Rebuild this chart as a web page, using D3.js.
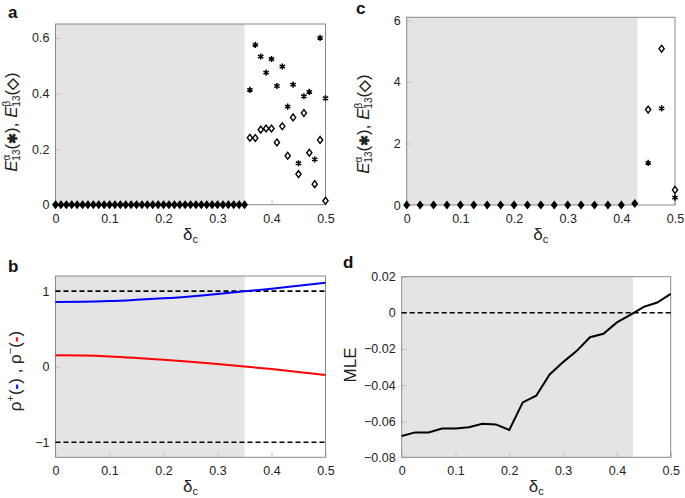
<!DOCTYPE html>
<html>
<head>
<meta charset="utf-8">
<script src="https://cdn.jsdelivr.net/npm/d3@7"></script>
<style>
  body { margin: 0; background: #fff; }
  svg { font-family: "Liberation Sans", Arial, sans-serif; }
</style>
</head>
<body>
<svg id="fig" width="685" height="498"></svg>
<script>
// ---- panel a : E13 errors, fine grid ----
const deltaA = [0, 0.01, 0.02, 0.03, 0.04, 0.05, 0.06, 0.07, 0.08, 0.09, 0.10, 0.11, 0.12, 0.13, 0.14, 0.15, 0.16,
  0.17, 0.18, 0.19, 0.20, 0.21, 0.22, 0.23, 0.24, 0.25, 0.26, 0.27, 0.28, 0.29, 0.30, 0.31, 0.32, 0.33, 0.34, 0.35,
  0.36, 0.37, 0.38, 0.39, 0.40, 0.41, 0.42, 0.43, 0.44, 0.45, 0.46, 0.47, 0.48, 0.49, 0.50];
const alphaA = [0, 0, 0, 0, 0, 0, 0, 0, 0, 0, 0, 0, 0, 0, 0, 0, 0, 0, 0, 0, 0, 0, 0, 0, 0, 0, 0, 0, 0, 0, 0, 0, 0, 0, 0, 0,
  0.413, 0.575, 0.533, 0.475, 0.524, 0.427, 0.497, 0.353, 0.432, 0.149, 0.390, 0.406, 0.163, 0.600, 0.383];
const betaA = [0, 0, 0, 0, 0, 0, 0, 0, 0, 0, 0, 0, 0, 0, 0, 0, 0, 0, 0, 0, 0, 0, 0, 0, 0, 0, 0, 0, 0, 0, 0, 0, 0, 0, 0, 0,
  0.241, 0.240, 0.270, 0.274, 0.274, 0.224, 0.282, 0.176, 0.314, 0.110, 0.330, 0.187, 0.074, 0.233, 0.014];
const shadeA = 0.35;

// ---- panel b : rho+ / rho- ----
const deltaB = [0, 0.05, 0.10, 0.15, 0.20, 0.25, 0.30, 0.35, 0.40, 0.45, 0.50];
const rhoPlus = [0.855, 0.858, 0.868, 0.885, 0.905, 0.930, 0.962, 0.998, 1.032, 1.070, 1.110];
const rhoMinus = [0.150, 0.147, 0.136, 0.116, 0.092, 0.064, 0.034, 0.002, -0.032, -0.070, -0.110];
const shadeB = 0.35;

// ---- panel c : E13 errors, coarse grid ----
const deltaC = [0, 0.025, 0.05, 0.075, 0.10, 0.125, 0.15, 0.175, 0.20, 0.225, 0.25, 0.275, 0.30, 0.325, 0.35,
  0.375, 0.40, 0.425, 0.45, 0.475, 0.50];
const alphaC = [0, 0, 0, 0, 0, 0, 0, 0, 0, 0, 0, 0, 0, 0, 0, 0, 0, 0.05, 1.37, 3.14, 0.24];
const betaC = [0, 0, 0, 0, 0, 0, 0, 0, 0, 0, 0, 0, 0, 0, 0, 0, 0, 0.05, 3.10, 5.08, 0.49];
const shadeC = 0.43;

// ---- panel d : MLE ----
const deltaD = deltaC;
const mle = [-0.0682, -0.0662, -0.0662, -0.0641, -0.0640, -0.0634, -0.0614, -0.0618, -0.0649, -0.0496, -0.0459,
  -0.0341, -0.0273, -0.0212, -0.0135, -0.0116, -0.0053, -0.0011, 0.0033, 0.0057, 0.0105];
const shadeD = 0.43;

const xTicks = [0, 0.1, 0.2, 0.3, 0.4, 0.5];

const svg = d3.select("#fig");
const minus = s => s.replace("-", "\u2212");

function panel(box, yDomain, yTicks, yFmt, shadeEnd) {
  const g = svg.append("g");
  const x = d3.scaleLinear().domain([0, 0.5]).range([box.left, box.right]);
  const y = d3.scaleLinear().domain(yDomain).range([box.bottom, box.top]);

  g.append("rect")
    .attr("x", x(0)).attr("y", box.top)
    .attr("width", x(shadeEnd) - x(0)).attr("height", box.bottom - box.top)
    .attr("fill", "#e4e4e4");

  const xa = g.append("g").attr("transform", "translate(0," + box.bottom + ")")
    .call(d3.axisBottom(x).tickValues(xTicks).tickSizeInner(-5).tickSizeOuter(0).tickPadding(9)
      .tickFormat(d => d === 0 ? "0" : d3.format(".1f")(d)));
  const ya = g.append("g").attr("transform", "translate(" + box.left + ",0)")
    .call(d3.axisLeft(y).tickValues(yTicks).tickSizeInner(-5).tickSizeOuter(0).tickPadding(6)
      .tickFormat(d => d === 0 ? "0" : minus(yFmt(d))));
  [xa, ya].forEach(a => {
    a.select(".domain").remove();
    a.selectAll("line").attr("stroke", "#c4c4c4");
    a.selectAll("text").attr("font-size", 12.5).attr("fill", "#222")
      .attr("font-family", "'Liberation Sans', Arial, sans-serif");
  });

  g.append("rect")
    .attr("x", box.left).attr("y", box.top)
    .attr("width", box.right - box.left).attr("height", box.bottom - box.top)
    .attr("fill", "none").attr("stroke", "#8a8a8a").attr("stroke-width", 1);

  // x label δc
  const xl = g.append("text")
    .attr("x", (box.left + box.right) / 2).attr("y", box.bottom + 35)
    .attr("text-anchor", "middle").attr("font-size", 17).attr("fill", "#222");
  xl.append("tspan").text("δ");
  xl.append("tspan").attr("font-size", 11).attr("dy", 3).text("c");

  return { g, x, y };
}

const boxA = { left: 55.5, right: 325.5, top: 24, bottom: 204.7 };
const boxB = { left: 55.5, right: 325.5, top: 276, bottom: 457.3 };
const boxC = { left: 406.7, right: 675, top: 17.3, bottom: 205 };
const boxD = { left: 401.7, right: 670.7, top: 276.7, bottom: 457.3 };

const diamond = "M0,-3.4L2.6,0L0,3.4L-2.6,0Z";
const star = d3.symbol(d3.symbolAsterisk, 26)();

function scatter(p, xs, alpha, beta) {
  const pts = xs.map((d, i) => ({ d, a: alpha[i], b: beta[i] }));
  p.g.append("g").selectAll("path").data(pts).join("path")
    .attr("transform", v => "translate(" + p.x(v.d) + "," + p.y(v.b) + ")")
    .attr("d", diamond)
    .attr("fill", v => v.a === v.b ? "#000" : "#fff")
    .attr("stroke", "#000").attr("stroke-width", 1.4);
  p.g.append("g").selectAll("path").data(pts.filter(v => v.a !== v.b)).join("path")
    .attr("transform", v => "translate(" + p.x(v.d) + "," + p.y(v.a) + ")")
    .attr("d", star)
    .attr("fill", "none").attr("stroke", "#000").attr("stroke-width", 1.5);
}

// panel a
const pA = panel(boxA, [0, 0.65], [0, 0.2, 0.4, 0.6], d3.format(".1f"), shadeA);
scatter(pA, deltaA, alphaA, betaA);

// panel c
const pC = panel(boxC, [0, 6.1], [0, 2, 4, 6], d3.format("d"), shadeC);
scatter(pC, deltaC, alphaC, betaC);

// panel b
const pB = panel(boxB, [-1.2, 1.2], [-1, 0, 1], d3.format("d"), shadeB);
[1, -1].forEach(v => {
  pB.g.append("line")
    .attr("x1", pB.x(0)).attr("x2", pB.x(0.5)).attr("y1", pB.y(v)).attr("y2", pB.y(v))
    .attr("stroke", "#000").attr("stroke-width", 1.6).attr("stroke-dasharray", "5,3");
});
const lineB = ys => d3.line().x((d, i) => pB.x(deltaB[i])).y(d => pB.y(d)).curve(d3.curveMonotoneX)(ys);
pB.g.append("path").attr("d", lineB(rhoPlus)).attr("fill", "none").attr("stroke", "#0000ff").attr("stroke-width", 2);
pB.g.append("path").attr("d", lineB(rhoMinus)).attr("fill", "none").attr("stroke", "#ff0000").attr("stroke-width", 2);

// panel d
const pD = panel(boxD, [-0.08, 0.02], [-0.08, -0.06, -0.04, -0.02, 0, 0.02], d3.format(".2f"), shadeD);
pD.g.append("line")
  .attr("x1", pD.x(0)).attr("x2", pD.x(0.5)).attr("y1", pD.y(0)).attr("y2", pD.y(0))
  .attr("stroke", "#000").attr("stroke-width", 1.6).attr("stroke-dasharray", "5,3");
pD.g.append("path")
  .attr("d", d3.line().x((d, i) => pD.x(deltaD[i])).y(d => pD.y(d))(mle))
  .attr("fill", "none").attr("stroke", "#000").attr("stroke-width", 2);

// y labels
function eLabel(cx, cy) {
  const t = svg.append("text")
    .attr("transform", "translate(" + cx + "," + cy + ") rotate(-90)")
    .attr("text-anchor", "middle").attr("font-size", 17).attr("fill", "#222");
  t.append("tspan").attr("font-style", "italic").text("E");
  t.append("tspan").attr("font-size", 10).attr("dy", -7).text("α");
  t.append("tspan").attr("font-size", 10).attr("dx", -6).attr("dy", 10).text("13");
  t.append("tspan").attr("dy", -3).text("(");
  t.append("tspan").attr("font-weight", "bold").attr("font-size", 13).text("✱");
  t.append("tspan").text("),  ");
  t.append("tspan").attr("font-style", "italic").text("E");
  t.append("tspan").attr("font-size", 10).attr("dy", -7).text("β");
  t.append("tspan").attr("font-size", 10).attr("dx", -6).attr("dy", 10).text("13");
  t.append("tspan").attr("dy", -3).text("(");
  t.append("tspan").attr("font-weight", "bold").attr("font-size", 15).text("◇");
  t.append("tspan").text(")");
}
eLabel(17, 122);
eLabel(368.5, 124);

const rl = svg.append("text")
  .attr("transform", "translate(21,371) rotate(-90)")
  .attr("text-anchor", "middle").attr("font-size", 17).attr("fill", "#222");
rl.append("tspan").text("ρ");
rl.append("tspan").attr("font-size", 11).attr("dy", -7).text("+");
rl.append("tspan").attr("dy", 7).text("(");
rl.append("tspan").attr("fill", "#0000ff").attr("font-weight", "bold").text("-");
rl.append("tspan").text(") , ρ");
rl.append("tspan").attr("font-size", 11).attr("dy", -7).text("\u2212");
rl.append("tspan").attr("dy", 7).text("(");
rl.append("tspan").attr("fill", "#ff0000").attr("font-weight", "bold").text("-");
rl.append("tspan").text(")");

svg.append("text")
  .attr("transform", "translate(356,365) rotate(-90)")
  .attr("text-anchor", "middle").attr("font-size", 17).attr("fill", "#222").text("MLE");

// panel letters
[["a", 8, 18], ["b", 8, 272], ["c", 356, 14], ["d", 343, 268]].forEach(([s, x, y]) => {
  svg.append("text").attr("x", x).attr("y", y).attr("font-size", 17)
    .attr("font-weight", "bold").attr("fill", "#111").text(s);
});
</script>
</body>
</html>
